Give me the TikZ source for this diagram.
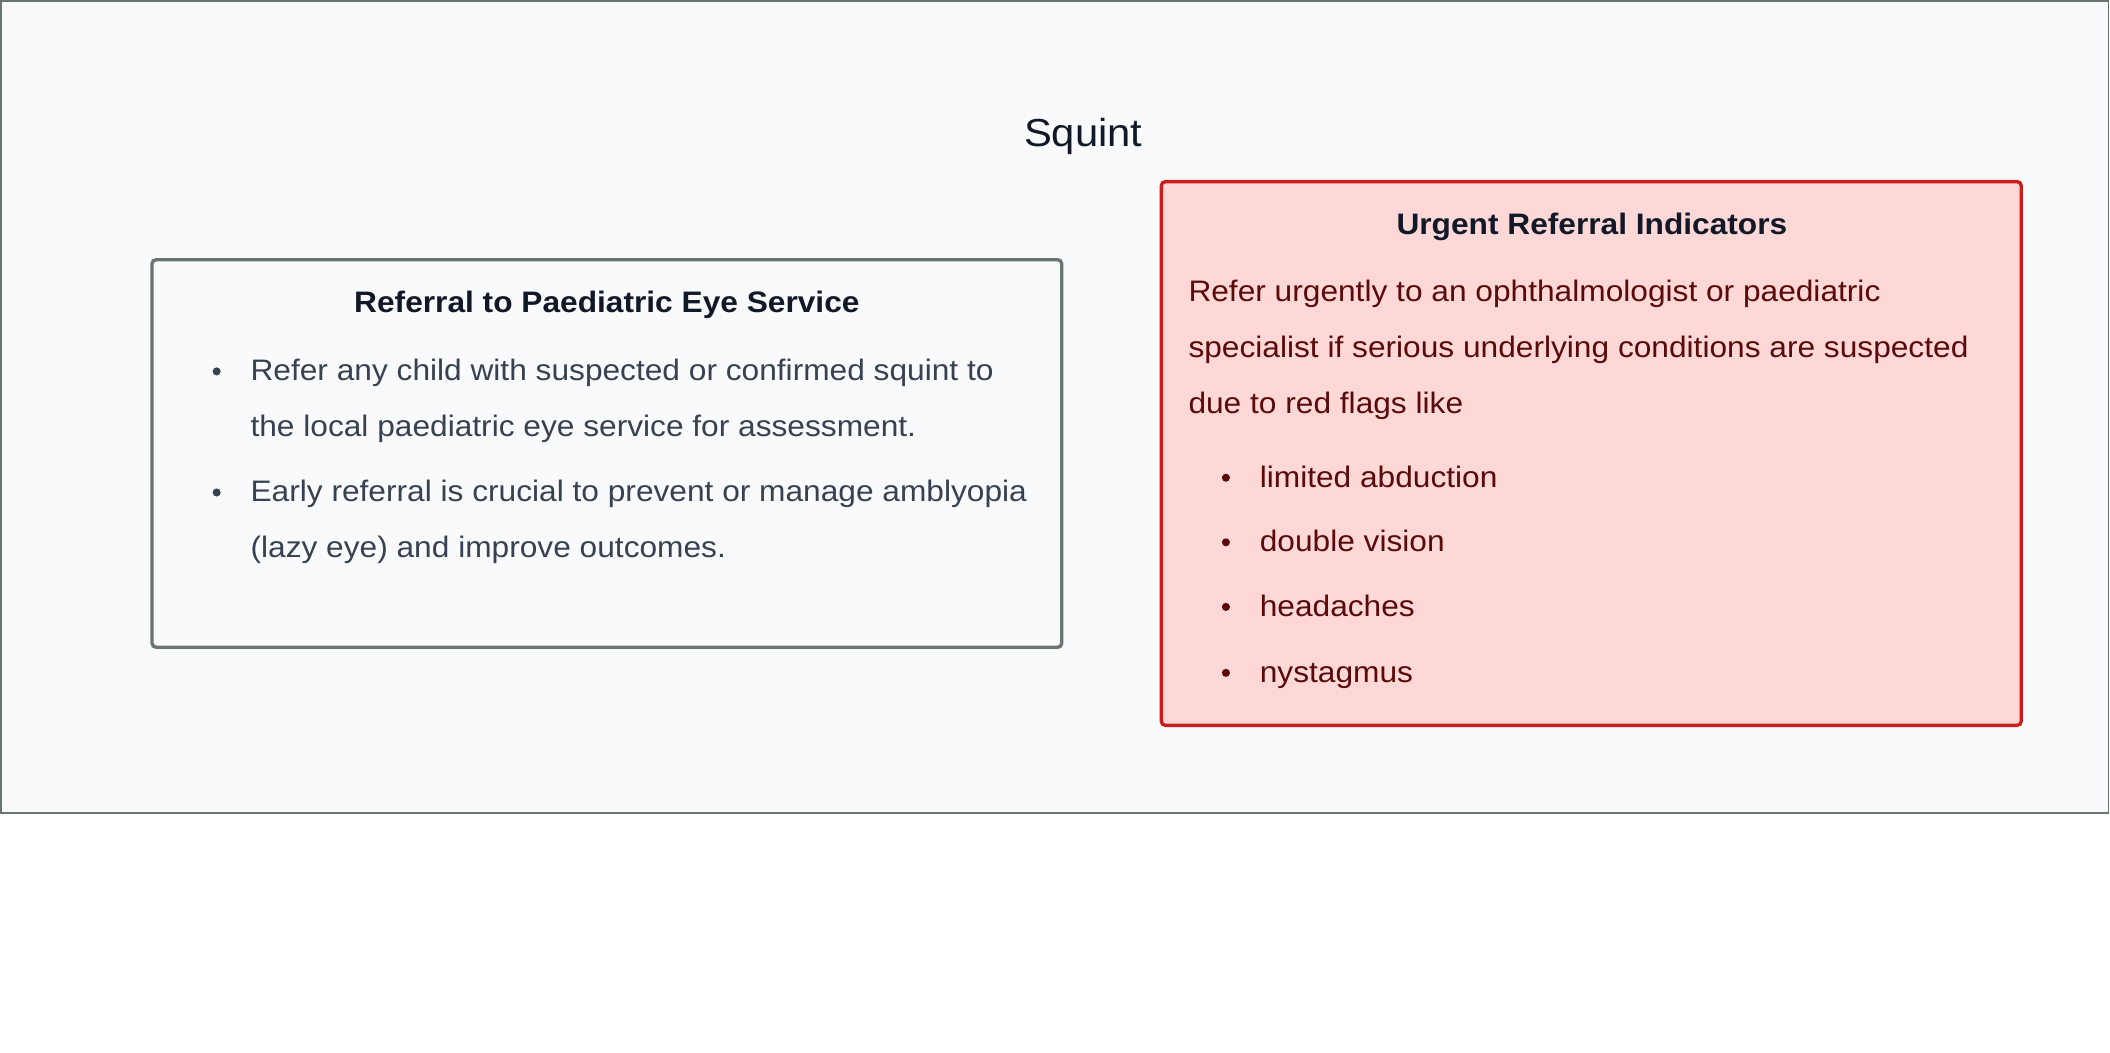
\documentclass[tikz,border=0pt]{standalone}
\usepackage{fontspec}
\setmainfont{Liberation Sans}[FakeStretch=1.07]
\definecolor{bgc}{HTML}{F9FAFB}
\definecolor{frame}{HTML}{6B7570}
\definecolor{ttl}{HTML}{111827}
\definecolor{body}{HTML}{374151}
\definecolor{redfill}{HTML}{FED7D7}
\definecolor{redline}{HTML}{C81E1E}
\definecolor{redtxt}{HTML}{5A0A0A}
\begin{document}
\begin{tikzpicture}[x=1pt,y=-1pt,
  txt/.style={anchor=base west,inner sep=0pt,font=\fontsize{22}{24}\selectfont},
  hd/.style={anchor=base,inner sep=0pt,font=\fontsize{22}{24}\selectfont\bfseries,text=ttl},
  dot/.style={circle,fill,inner sep=0pt,minimum size=6pt}]
\useasboundingbox (0,0) rectangle (1568,782);
\fill[white] (0,0) rectangle (1568,782);
\draw[frame,fill=bgc,line width=1.2pt] (0.6,0.6) rectangle (1567,604);
\node[anchor=base,inner sep=0pt,font=\fontsize{29}{32}\selectfont,text=ttl] (title) at (805,109) {Squint};
% left box
\draw[frame,line width=2.5pt,rounded corners=3pt,fill=bgc] (113,193) rectangle (789,481);
\node[hd] (lt) at (451,232) {Referral to Paediatric Eye Service};
\foreach \y/\t [count=\i] in {283/{Refer any child with suspected or confirmed squint to},
  324/{the local paediatric eye service for assessment.},
  373/{Early referral is crucial to prevent or manage amblyopia},
  414/{(lazy eye) and improve outcomes.}}
  \node[txt,text=body] (l\i) at (186,\y) {\t};
\node[dot,fill=body] (lb1) at (161,276) {};
\node[dot,fill=body] (lb2) at (161,366) {};
% right box
\draw[redline,line width=2.5pt,rounded corners=3pt,fill=redfill] (863,135) rectangle (1502,539);
\node[hd] (rt) at (1183,174) {Urgent Referral Indicators};
\foreach \y/\t [count=\i] in {224/{Refer urgently to an ophthalmologist or paediatric},
  266/{specialist if serious underlying conditions are suspected},
  307/{due to red flags like}}
  \node[txt,text=redtxt] (r\i) at (883,\y) {\t};
\foreach \y/\t [count=\i] in {362/{limited abduction},410/{double vision},458/{headaches},507/{nystagmus}}{
  \node[txt,text=redtxt] (b\i) at (936,\y) {\t};
  \node[dot,fill=redtxt] (bd\i) at (911,\y-7) {};}
\end{tikzpicture}
\end{document}
